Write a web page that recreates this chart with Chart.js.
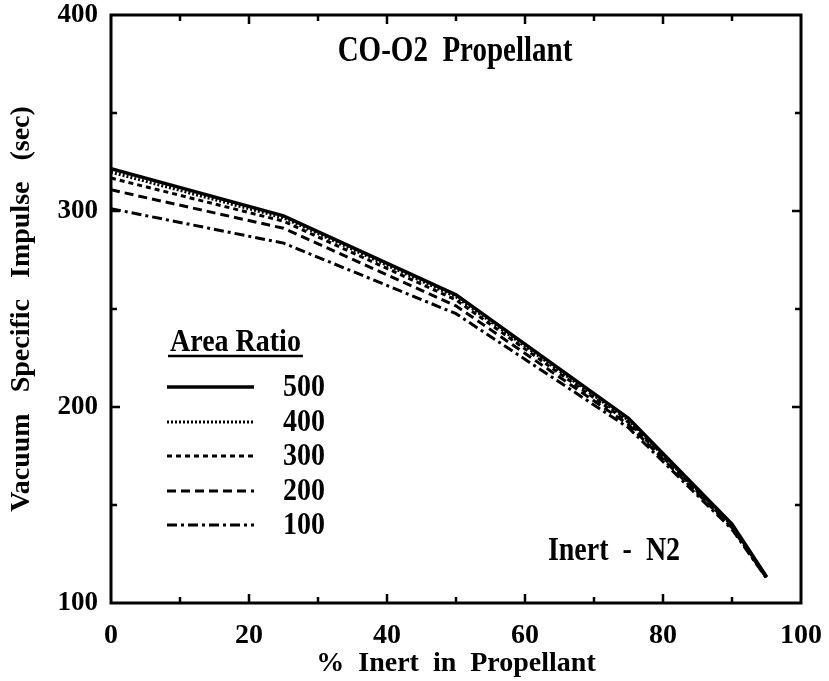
<!DOCTYPE html>
<html>
<head>
<meta charset="utf-8">
<script src="https://cdn.jsdelivr.net/npm/chart.js@4/dist/chart.umd.min.js"></script>
<style>
  html, body { margin: 0; padding: 0; background: #fff; }
  #wrap { width: 829px; height: 681px; position: relative; }
</style>
</head>
<body>
<div id="wrap"><canvas id="c" width="829" height="681"></canvas></div>
<script>
// ---- data ----
const inertPct = [0, 25, 50, 75, 90, 95];
const isp500 = [321.6, 297.5, 257.2, 194.2, 140.2, 113.4];
const isp400 = [319.8, 296.5, 256.2, 193.2, 139.6, 113.2];
const isp300 = [316.8, 294.8, 254.6, 192.2, 139.0, 113.0];
const isp200 = [310.8, 291.2, 251.6, 191.0, 138.4, 112.8];
const isp100 = [301.2, 283.6, 247.6, 189.4, 137.6, 112.6];
const areaRatios = ['500', '400', '300', '200', '100'];
const xTickLabels = ['0', '20', '40', '60', '80', '100'];
const yTickLabels = ['100', '200', '300', '400'];

const seriesValues = [isp500, isp400, isp300, isp200, isp100];
const dashes = [[], [2, 2], [5, 4], [9, 5], [10, 4, 3, 4]];
const widths = [3.5, 3, 3, 3, 3];

const SERIF = '"Liberation Serif", "DejaVu Serif", serif';

const datasets = seriesValues.map((vals, i) => ({
  label: areaRatios[i],
  data: inertPct.map((x, j) => ({ x: x, y: vals[j] })),
  borderColor: '#000',
  borderWidth: widths[i],
  borderDash: dashes[i],
  pointRadius: 0,
  fill: false,
  tension: 0
}));

function stretchText(ctx, text, x, y, size, sy, align) {
  ctx.save();
  ctx.font = 'bold ' + size + 'px ' + SERIF;
  ctx.textAlign = align || 'center';
  ctx.textBaseline = 'middle';
  ctx.fillStyle = '#000';
  ctx.translate(x, y);
  ctx.scale(1, sy);
  ctx.fillText(text, 0, 0);
  ctx.restore();
}

const decor = {
  id: 'decor',
  afterDatasetsDraw(chart) {
    const ctx = chart.ctx;
    const a = chart.chartArea;
    const xs = chart.scales.x, ys = chart.scales.y;
    ctx.save();
    // frame
    ctx.strokeStyle = '#000';
    ctx.lineWidth = 3;
    ctx.setLineDash([]);
    ctx.strokeRect(a.left, a.top, a.right - a.left, a.bottom - a.top);
    // inward ticks
    ctx.lineWidth = 2.5;
    for (let v = 10; v < 100; v += 10) {
      const px = xs.getPixelForValue(v);
      const len = (v % 20 === 0) ? 9 : 6;
      ctx.beginPath();
      ctx.moveTo(px, a.bottom); ctx.lineTo(px, a.bottom - len);
      ctx.moveTo(px, a.top); ctx.lineTo(px, a.top + len);
      ctx.stroke();
    }
    for (let v = 150; v < 400; v += 50) {
      const py = ys.getPixelForValue(v);
      const len = (v % 100 === 0) ? 9 : 6;
      ctx.beginPath();
      ctx.moveTo(a.left, py); ctx.lineTo(a.left + len, py);
      ctx.moveTo(a.right, py); ctx.lineTo(a.right - len, py);
      ctx.stroke();
    }
    ctx.restore();

    // annotations
    stretchText(ctx, 'CO-O2  Propellant', 455, 52, 29, 1.22);
    stretchText(ctx, 'Inert  -  N2', 614, 551, 28, 1.22);

    // legend
    stretchText(ctx, 'Area Ratio', 170, 343, 28, 1.15, 'left');
    ctx.save();
    ctx.font = 'bold 28px ' + SERIF;
    const w = ctx.measureText('Area Ratio').width;
    ctx.strokeStyle = '#000';
    ctx.lineWidth = 2.5;
    ctx.beginPath();
    ctx.moveTo(168, 356); ctx.lineTo(170 + w + 2, 356);
    ctx.stroke();
    ctx.restore();

    const rowY = [388, 423, 457, 492, 526];
    chart.data.datasets.forEach((ds, i) => {
      ctx.save();
      ctx.strokeStyle = ds.borderColor;
      ctx.lineWidth = ds.borderWidth;
      ctx.setLineDash(ds.borderDash);
      ctx.beginPath();
      ctx.moveTo(167, rowY[i] - 1);
      ctx.lineTo(254, rowY[i] - 1);
      ctx.stroke();
      ctx.restore();
      stretchText(ctx, ds.label, 283, rowY[i], 28, 1.15, 'left');
    });
  }
};

new Chart(document.getElementById('c'), {
  type: 'line',
  data: { datasets: datasets },
  options: {
    responsive: false,
    animation: false,
    layout: { padding: { top: 15, right: 28, bottom: 0, left: 0 } },
    plugins: { legend: { display: false }, tooltip: { enabled: false } },
    scales: {
      x: {
        type: 'linear',
        min: 0, max: 100,
        afterBuildTicks(scale) {
          scale.ticks = xTickLabels.map(t => ({ value: Number(t) }));
        },
        afterFit(scale) {
          scale.height = 78;
          scale.paddingLeft = 0;
          scale.paddingRight = 0;
        },
        ticks: {
          color: '#000',
          padding: 16,
          maxRotation: 0,
          font: { family: SERIF, size: 28, weight: 'bold' },
          callback: (v) => xTickLabels.includes(String(v)) ? String(v) : ''
        },
        grid: { display: false, drawTicks: false },
        border: { display: false },
        title: {
          display: true,
          text: '%  Inert  in  Propellant',
          color: '#000',
          font: { family: SERIF, size: 28, weight: 'bold' },
          padding: { top: 0, bottom: 0 }
        }
      },
      y: {
        type: 'linear',
        min: 100, max: 400,
        afterBuildTicks(scale) {
          scale.ticks = yTickLabels.map(t => ({ value: Number(t) }));
        },
        afterFit(scale) {
          scale.width = 111;
          scale.paddingTop = 0;
          scale.paddingBottom = 0;
        },
        ticks: {
          color: '#000',
          padding: 13,
          font: { family: SERIF, size: 27, weight: 'bold' },
          callback: (v) => String(v)
        },
        grid: { display: false, drawTicks: false },
        border: { display: false },
        title: {
          display: true,
          text: 'Vacuum   Specific   Impulse   (sec)',
          color: '#000',
          font: { family: SERIF, size: 28, weight: 'bold' },
          padding: { top: 5, bottom: 0 }
        }
      }
    }
  },
  plugins: [decor]
});
</script>
</body>
</html>
